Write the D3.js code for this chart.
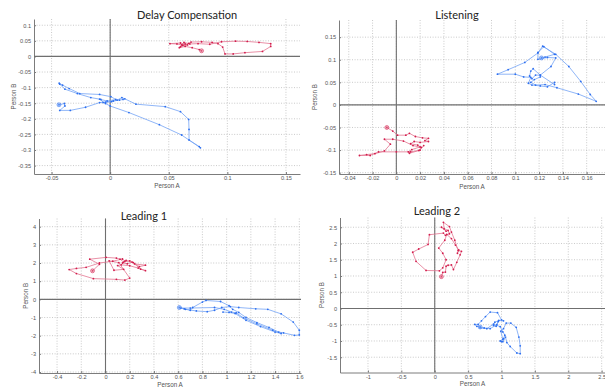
<!DOCTYPE html>
<html>
<head>
<meta charset="utf-8">
<script src="https://cdn.jsdelivr.net/npm/d3@7"></script>
<style>
  body { margin: 0; background: #fff; }
  svg { display: block; }
  .axis path, .axis line { stroke: #7c7c7c; }
  .axis text { font-family: "Liberation Sans", Arial, sans-serif; font-size: 5.6px; fill: #555; }
</style>
</head>
<body>
<svg id="chart" width="605" height="388"></svg>
<script>
// ---- data (Person A, Person B) ----
const delayRed = [[0.078,0.018],[0.076,0.022],[0.070,0.028],[0.064,0.032],[0.059,0.028],[0.062,0.036],
  [0.057,0.040],[0.051,0.041],[0.060,0.043],[0.066,0.037],[0.060,0.031],[0.067,0.042],[0.069,0.046],
  [0.078,0.047],[0.087,0.045],[0.092,0.041],[0.096,0.030],[0.098,0.008],[0.105,0.008],[0.115,0.012],
  [0.130,0.016],[0.137,0.032],[0.137,0.041],[0.127,0.045],[0.117,0.048],[0.107,0.049],[0.095,0.047],
  [0.085,0.039],[0.075,0.041],[0.068,0.040],[0.063,0.045],[0.061,0.037],[0.064,0.040]];
const delayBlue = [[-0.0437,-0.155],[-0.039,-0.151],[-0.0386,-0.159],[-0.043,-0.173],[-0.034,-0.173],
  [-0.021,-0.163],[-0.009,-0.148],[-0.004,-0.147],[0.001,-0.145],[0.006,-0.140],[0.010,-0.132],
  [0.0125,-0.136],[0.022,-0.153],[0.047,-0.161],[0.060,-0.177],[0.067,-0.202],[0.0673,-0.234],
  [0.0673,-0.268],[0.076,-0.289],[0.077,-0.293],[0.061,-0.252],[0.042,-0.219],[0.016,-0.180],
  [0.000,-0.159],[-0.004,-0.151],[-0.009,-0.137],[-0.0165,-0.132],[-0.028,-0.119],[-0.0386,-0.105],
  [-0.043,-0.089],[-0.0435,-0.086],[-0.0406,-0.092],[-0.035,-0.103],[-0.026,-0.119],[-0.009,-0.122],
  [0.0006,-0.129],[0.0048,-0.138],[-0.0026,-0.143],[-0.008,-0.138],[-0.006,-0.148],[0.0026,-0.143],
  [0.008,-0.140],[0.011,-0.138]];

const listenRed = [[-0.008,-0.050],[-0.003,-0.058],[0.001,-0.067],[0.008,-0.067],[0.011,-0.063],
  [0.016,-0.070],[0.022,-0.073],[0.027,-0.074],[0.024,-0.079],[0.027,-0.081],[0.020,-0.083],
  [0.015,-0.081],[0.012,-0.086],[0.018,-0.089],[0.020,-0.093],[0.013,-0.099],[0.010,-0.104],
  [0.011,-0.107],[0.019,-0.101],[0.021,-0.094],[0.014,-0.090],[0.006,-0.080],[-0.003,-0.076],
  [-0.010,-0.076],[-0.005,-0.087],[-0.010,-0.102],[-0.018,-0.108],[-0.025,-0.110],[-0.031,-0.112],
  [-0.022,-0.112],[-0.015,-0.104],[0.000,-0.104],[0.012,-0.104],[0.020,-0.100],[0.023,-0.090]];
const listenBlue = [[0.122,0.104],[0.125,0.106],[0.133,0.112],[0.124,0.129],[0.119,0.116],[0.119,0.101],
  [0.127,0.105],[0.134,0.104],[0.130,0.085],[0.121,0.066],[0.115,0.080],[0.113,0.075],[0.112,0.064],
  [0.114,0.058],[0.117,0.066],[0.121,0.066],[0.133,0.045],[0.133,0.050],[0.127,0.040],[0.121,0.042],
  [0.114,0.044],[0.111,0.048],[0.113,0.061],[0.107,0.062],[0.100,0.068],[0.085,0.068],[0.094,0.078],
  [0.108,0.094],[0.119,0.115],[0.123,0.130],[0.134,0.112],[0.145,0.085],[0.155,0.052],[0.163,0.023],
  [0.168,0.008],[0.153,0.024],[0.135,0.038],[0.125,0.045],[0.117,0.044],[0.113,0.050],[0.116,0.056],
  [0.121,0.062]];

const lead1Red = [[-0.107,1.57],[-0.05,1.93],[-0.13,2.21],[0.005,2.31],[0.09,2.27],[0.12,2.21],[0.15,2.05],
  [0.20,2.12],[0.22,2.05],[0.18,1.96],[0.14,2.00],[0.17,2.15],[0.23,2.02],[0.28,1.80],[0.33,1.88],
  [0.24,1.95],[0.29,1.66],[0.33,1.58],[0.27,1.72],[0.20,1.85],[0.13,1.90],[0.10,1.86],[0.15,1.65],
  [0.07,1.60],[0.03,2.12],[0.11,2.02],[0.20,1.17],[0.16,1.06],[0.09,1.10],[-0.10,1.14],[-0.24,1.42],
  [-0.30,1.64],[-0.24,1.70],[-0.16,1.76],[-0.05,2.00],[0.06,2.10],[0.14,2.22],[0.16,2.10]];
const lead1Blue = [[0.61,-0.45],[0.65,-0.52],[0.70,-0.60],[0.72,-0.45],[0.80,-0.15],[0.83,-0.06],
  [0.95,-0.12],[1.02,-0.35],[1.05,-0.55],[1.10,-0.72],[1.16,-1.00],[1.25,-1.28],[1.35,-1.55],
  [1.43,-1.80],[1.47,-1.85],[1.56,-1.98],[1.60,-1.96],[1.60,-1.70],[1.55,-1.25],[1.45,-0.80],
  [1.34,-0.55],[1.24,-0.52],[1.10,-0.45],[1.03,-0.40],[0.96,-0.45],[0.90,-0.60],[0.84,-0.68],
  [0.75,-0.64],[0.66,-0.55],[0.62,-0.48],[0.70,-0.48],[0.90,-0.45],[0.98,-0.55],[1.04,-0.70],
  [1.08,-0.75],[1.14,-1.02],[1.25,-1.35],[1.38,-1.70],[1.45,-1.88],[1.40,-1.80],[1.28,-1.50],
  [1.16,-1.15],[1.07,-0.78],[1.02,-0.72],[0.97,-0.70]];

const lead2Red = [[0.10,0.98],[0.12,1.11],[0.16,1.12],[0.17,1.30],[0.20,1.33],[0.25,1.34],[0.28,1.20],
  [0.33,1.42],[0.38,1.65],[0.40,1.76],[0.35,1.78],[0.30,2.10],[0.25,2.35],[0.22,2.52],[0.13,2.65],
  [0.14,2.45],[0.17,2.38],[0.10,2.50],[0.20,2.40],[0.22,2.30],[0.16,2.25],[0.13,2.32],[-0.08,2.27],
  [-0.10,1.97],[-0.24,1.83],[-0.33,1.73],[-0.28,1.45],[-0.13,1.17],[0.07,1.16],[0.12,1.25],
  [0.17,1.50],[0.12,1.70],[0.06,1.86],[0.15,2.10],[0.18,2.28],[0.25,2.15],[0.31,1.95],[0.36,1.80],
  [0.34,1.70]];
const lead2Blue = [[0.68,-0.57],[0.63,-0.55],[0.60,-0.49],[0.65,-0.49],[0.70,-0.38],[0.76,-0.25],
  [0.83,-0.11],[0.94,-0.13],[1.00,-0.35],[1.03,-0.38],[0.96,-0.37],[0.90,-0.42],[0.88,-0.52],
  [0.92,-0.55],[0.95,-0.40],[0.93,-0.50],[0.83,-0.62],[0.74,-0.60],[0.68,-0.59],[0.78,-0.62],
  [0.88,-0.48],[0.98,-0.56],[1.02,-0.72],[1.05,-0.82],[1.03,-0.93],[0.98,-1.00],[1.02,-1.02],
  [1.06,-0.88],[1.08,-1.05],[1.13,-1.17],[1.23,-1.37],[1.28,-1.39],[1.28,-1.15],[1.26,-0.88],
  [1.22,-0.58],[1.14,-0.45],[1.07,-0.45],[1.03,-0.62],[0.99,-0.70],[1.02,-0.95],[1.00,-1.02]];

// ---- tick values ----
const delayTicksX = [-0.05, 0, 0.05, 0.1, 0.15];
const delayTicksY = [-0.35, -0.3, -0.25, -0.2, -0.15, -0.1, -0.05, 0, 0.05, 0.1];
const listenTicksX = [-0.04, -0.02, 0, 0.02, 0.04, 0.06, 0.08, 0.1, 0.12, 0.14, 0.16];
const listenTicksY = [-0.15, -0.1, -0.05, 0, 0.05, 0.1, 0.15];
const lead1TicksX = [-0.4, -0.2, 0, 0.2, 0.4, 0.6, 0.8, 1, 1.2, 1.4, 1.6];
const lead1TicksY = [-4, -3, -2, -1, 0, 1, 2, 3, 4];
const lead2TicksX = [-1, -0.5, 0, 0.5, 1, 1.5, 2, 2.5];
const lead2TicksY = [-1.5, -1, -0.5, 0, 0.5, 1, 1.5, 2, 2.5];

const titles = ["Delay Compensation", "Listening", "Leading 1", "Leading 2"];

// layout per panel
const panels = [
  { title: titles[0], red: delayRed, blue: delayBlue, xt: delayTicksX, yt: delayTicksY,
    xDom: [-0.065, 0.162], yDom: [-0.377, 0.12], box: {l: 34, r: 300, t: 19, b: 174},
    titleAt: [187, 19], xLab: 187.5, yLab: 16 },
  { title: titles[1], red: listenRed, blue: listenBlue, xt: listenTicksX, yt: listenTicksY,
    xDom: [-0.0482, 0.1754], yDom: [-0.153, 0.188], box: {l: 339, r: 605, t: 20, b: 174},
    titleAt: [457, 19], xLab: 188.5, yLab: 317 },
  { title: titles[2], red: lead1Red, blue: lead1Blue, xt: lead1TicksX, yt: lead1TicksY,
    xDom: [-0.549, 1.614], yDom: [-4.055, 4.45], box: {l: 39, r: 301, t: 218.5, b: 373},
    titleAt: [144, 220], xLab: 387, yLab: 28 },
  { title: titles[3], red: lead2Red, blue: lead2Blue, xt: lead2TicksX, yt: lead2TicksY,
    xDom: [-1.419, 2.55], yDom: [-1.97, 2.80], box: {l: 340, r: 605, t: 217.5, b: 372.5},
    titleAt: [437, 215], xLab: 385.5, yLab: 324 }
];

const svg = d3.select("#chart");
const fmt = d => String(+d.toFixed(3));

const styles = {
  red:  { line: "#e37590", dot: "#d21c4c" },
  blue: { line: "#73a3f5", dot: "#2d6ff0" }
};

panels.forEach(drawPanel);

function drawPanel(p) {
  const b = p.box;
  const x = d3.scaleLinear().domain(p.xDom).range([b.l, b.r]);
  const y = d3.scaleLinear().domain(p.yDom).range([b.b, b.t]);
  const g = svg.append("g");

  // dotted grid
  g.selectAll(".gx").data(p.xt).enter().append("line")
    .attr("x1", d => x(d)).attr("x2", d => x(d))
    .attr("y1", b.t).attr("y2", b.b)
    .attr("stroke", "#bdbdbd").attr("stroke-width", 0.8).attr("stroke-dasharray", "1,1.6");
  g.selectAll(".gy").data(p.yt).enter().append("line")
    .attr("x1", b.l).attr("x2", b.r)
    .attr("y1", d => y(d)).attr("y2", d => y(d))
    .attr("stroke", "#bdbdbd").attr("stroke-width", 0.8).attr("stroke-dasharray", "1,1.6");

  // axes
  g.append("g").attr("class", "axis")
    .attr("transform", "translate(0," + b.b + ")")
    .call(d3.axisBottom(x).tickValues(p.xt).tickFormat(fmt).tickSize(-2).tickSizeOuter(0).tickPadding(2.5));
  g.append("g").attr("class", "axis")
    .attr("transform", "translate(" + b.l + ",0)")
    .call(d3.axisLeft(y).tickValues(p.yt).tickFormat(fmt).tickSize(-2).tickSizeOuter(0).tickPadding(3));

  // zero lines
  g.append("line").attr("x1", x(0)).attr("x2", x(0)).attr("y1", b.t).attr("y2", b.b)
    .attr("stroke", "#6f6f6f").attr("stroke-width", 1.1);
  g.append("line").attr("x1", b.l).attr("x2", b.r).attr("y1", y(0)).attr("y2", y(0))
    .attr("stroke", "#6f6f6f").attr("stroke-width", 1.1);

  const line = d3.line().x(d => x(d[0])).y(d => y(d[1]));

  [["red", p.red], ["blue", p.blue]].forEach(([key, data]) => {
    const s = styles[key];
    g.append("path").datum(data)
      .attr("d", line).attr("fill", "none")
      .attr("stroke", s.line).attr("stroke-width", 0.8);
    g.selectAll(".dot-" + key).data(data).enter().append("circle")
      .attr("cx", d => x(d[0])).attr("cy", d => y(d[1]))
      .attr("r", 0.9).attr("fill", s.dot);
    // start marker
    g.append("circle")
      .attr("cx", x(data[0][0])).attr("cy", y(data[0][1]))
      .attr("r", 2).attr("fill", s.line).attr("fill-opacity", 0.5)
      .attr("stroke", s.dot).attr("stroke-width", 0.5);
  });

  // labels
  g.append("text").attr("x", p.titleAt[0]).attr("y", p.titleAt[1])
    .attr("text-anchor", "middle")
    .style("font-family", "Lato, 'Open Sans', sans-serif").style("font-size", "11px")
    .attr("fill", "#222").text(p.title);

  const midX = (b.l + b.r) / 2, midY = (b.t + b.b) / 2;
  g.append("text").attr("x", midX).attr("y", p.xLab)
    .attr("text-anchor", "middle")
    .style("font-family", "'Liberation Sans', Arial, sans-serif").style("font-size", "6.3px")
    .attr("fill", "#555").text("Person A");
  g.append("text")
    .attr("transform", "translate(" + p.yLab + "," + midY + ") rotate(-90)")
    .attr("text-anchor", "middle")
    .style("font-family", "'Liberation Sans', Arial, sans-serif").style("font-size", "6.3px")
    .attr("fill", "#555").text("Person B");
}
</script>
</body>
</html>
